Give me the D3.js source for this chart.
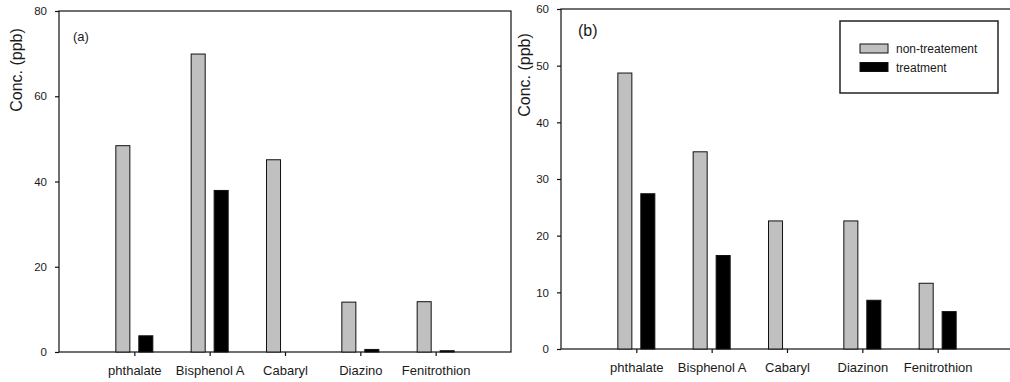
<!DOCTYPE html>
<html>
<head>
<meta charset="utf-8">
<script src="https://cdn.jsdelivr.net/npm/d3@7"></script>
<style>
    body { margin: 0; background: #fff; }
    text { font-family: Arial, "Liberation Sans", sans-serif; fill: #1a1a1a; }
</style>
</head>
<body>
<div id="chart-area"></div>
<script>
// data
var seriesNames = ["non-treatement", "treatment"];

var categoriesA = ["phthalate", "Bisphenol A", "Cabaryl", "Diazino", "Fenitrothion"];
var nonTreatA = [48.4, 69.9, 45.1, 11.7, 11.8];
var treatA = [3.8, 37.9, 0, 0.6, 0.3];
var ticksA = [0, 20, 40, 60, 80];

var categoriesB = ["phthalate", "Bisphenol A", "Cabaryl", "Diazinon", "Fenitrothion"];
var nonTreatB = [48.7, 34.8, 22.6, 22.6, 11.6];
var treatB = [27.4, 16.5, 0, 8.6, 6.6];
var ticksB = [0, 10, 20, 30, 40, 50, 60];

var colors = ["#c0c0c0", "#000000"];

function Panel(svg, opts) {
    var self = this;
    self.svg = svg;
    self.opts = opts;
    self.init();
}

Panel.prototype.init = function() {
    var self = this;
    var o = self.opts;

    var g = self.svg.append("g");

    var x = d3.scalePoint()
        .domain(o.categories)
        .range([o.left, o.right])
        .padding(1);

    var xSub = d3.scaleBand()
        .domain(seriesNames)
        .range([-18.5, 18.5])
        .paddingInner(0.39);

    var y = d3.scaleLinear()
        .domain([0, o.ticks[o.ticks.length - 1]])
        .range([o.bottom, o.top]);

    // frame
    g.append("rect")
        .attr("x", o.left)
        .attr("y", o.top)
        .attr("width", o.right - o.left)
        .attr("height", o.bottom - o.top)
        .attr("fill", "none")
        .attr("stroke", "#111")
        .attr("stroke-width", 1.2);

    // Y AXIS
    var yAxis = d3.axisLeft(y)
        .tickValues(o.ticks)
        .tickSize(4)
        .tickPadding(8);

    var ya = g.append("g")
        .attr("transform", "translate(" + o.left + ",0)")
        .call(yAxis);
    ya.select(".domain").remove();
    ya.selectAll("line").attr("stroke", "#111").attr("stroke-width", 1.2);
    ya.selectAll("text").attr("font-size", 11.5).attr("fill", "#1a1a1a");

    // X AXIS
    var xAxis = d3.axisBottom(x)
        .tickSize(4)
        .tickPadding(10);

    var xa = g.append("g")
        .attr("transform", "translate(0," + o.bottom + ")")
        .call(xAxis);
    xa.select(".domain").remove();
    xa.selectAll("line").attr("stroke", "#111").attr("stroke-width", 1.2);
    xa.selectAll("text").attr("font-size", 13).attr("fill", "#1a1a1a");

    // BARS
    var rows = o.categories.map(function(c, i) {
        return [
            {cat: c, key: seriesNames[0], value: o.nonTreat[i]},
            {cat: c, key: seriesNames[1], value: o.treat[i]}
        ];
    });

    g.selectAll("g.cat")
        .data(rows)
        .enter()
        .append("g")
        .attr("class", "cat")
        .attr("transform", function(d) {
            return "translate(" + x(d[0].cat) + ",0)";
        })
        .selectAll("rect")
        .data(function(d) { return d.filter(function(e) { return e.value > 0; }); })
        .enter()
        .append("rect")
        .attr("x", function(d) { return xSub(d.key); })
        .attr("width", xSub.bandwidth())
        .attr("y", function(d) { return y(d.value); })
        .attr("height", function(d) { return y(0) - y(d.value); })
        .attr("fill", function(d) { return colors[seriesNames.indexOf(d.key)]; })
        .attr("stroke", "#111")
        .attr("stroke-width", 1);

    // y label
    g.append("text")
        .attr("transform", "translate(" + o.yLabelX + "," + o.yLabelY + ") rotate(-90)")
        .attr("text-anchor", "middle")
        .attr("font-size", 16)
        .text("Conc. (ppb)");

    // panel tag
    g.append("text")
        .attr("x", o.tagX)
        .attr("y", o.tagY)
        .attr("font-size", o.tagSize)
        .text(o.tag);

    self.x = x;
    self.y = y;
    self.g = g;
};

Panel.prototype.legend = function(lx, ly, lw, lh) {
    var self = this;

    var lg = self.g.append("g")
        .attr("transform", "translate(" + lx + "," + ly + ")");

    lg.append("rect")
        .attr("width", lw)
        .attr("height", lh)
        .attr("fill", "#fff")
        .attr("stroke", "#222")
        .attr("stroke-width", 1.5);

    var items = lg.selectAll("g.item")
        .data(seriesNames)
        .enter()
        .append("g")
        .attr("class", "item")
        .attr("transform", function(d, i) {
            return "translate(20," + (23 + i * 18.5) + ")";
        });

    items.append("rect")
        .attr("width", 28)
        .attr("height", 9)
        .attr("fill", function(d, i) { return colors[i]; })
        .attr("stroke", "#111")
        .attr("stroke-width", 1);

    items.append("text")
        .attr("x", 36)
        .attr("y", 9)
        .attr("font-size", 12)
        .text(function(d) { return d; });
};

var svg = d3.select("#chart-area").append("svg")
    .attr("width", 1010)
    .attr("height", 382);

var panelA = new Panel(svg, {
    categories: categoriesA, nonTreat: nonTreatA, treat: treatA, ticks: ticksA,
    left: 59, right: 511, top: 11, bottom: 352,
    yLabelX: 22, yLabelY: 70,
    tag: "(a)", tagX: 73, tagY: 41, tagSize: 13
});

var panelB = new Panel(svg, {
    categories: categoriesB, nonTreat: nonTreatB, treat: treatB, ticks: ticksB,
    left: 561, right: 1013, top: 9, bottom: 349,
    yLabelX: 530, yLabelY: 75,
    tag: "(b)", tagX: 578, tagY: 36, tagSize: 16
});

panelB.legend(840, 21, 158, 72);
</script>
</body>
</html>
